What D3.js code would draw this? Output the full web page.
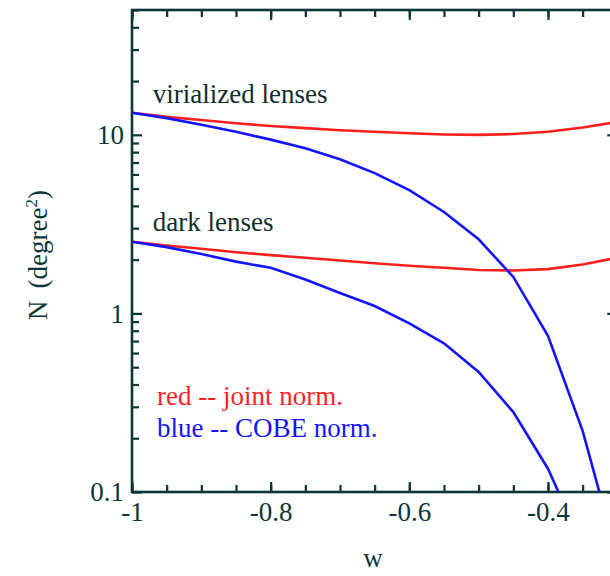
<!DOCTYPE html>
<html>
<head>
<meta charset="utf-8">
<script src="https://cdn.jsdelivr.net/npm/d3@7"></script>
<style>
  body { margin: 0; background: #fff; }
  svg { display: block; }
  text { font-family: "Liberation Serif", "Times New Roman", serif; }
</style>
</head>
<body>
<div id="chart"></div>
<script>
// w values sampled every 0.05
const wValues = [-1, -0.95, -0.9, -0.85, -0.8, -0.75, -0.7, -0.65, -0.6, -0.55, -0.5, -0.45, -0.4, -0.35, -0.3];

// virialized lenses
const virialRed  = [13.3, 12.6, 12.1, 11.6, 11.2, 10.9, 10.6, 10.4, 10.2, 10.05, 10.0, 10.1, 10.4, 11.0, 11.8];
const virialBlue = [13.3, 12.4, 11.4, 10.4, 9.4, 8.4, 7.3, 6.1, 4.9, 3.7, 2.6, 1.6, 0.75, 0.22, 0.043];

// dark lenses
const darkRed  = [2.52, 2.4, 2.3, 2.2, 2.12, 2.05, 1.98, 1.91, 1.85, 1.8, 1.75, 1.74, 1.77, 1.88, 2.05];
const darkBlue = [2.52, 2.35, 2.15, 1.95, 1.8, 1.55, 1.3, 1.1, 0.88, 0.68, 0.47, 0.28, 0.135, 0.05, 0.02];

const xMajor = [-1, -0.8, -0.6, -0.4];
const xLabels = ["-1", "-0.8", "-0.6", "-0.4"];
const yMajor = [0.1, 1, 10];
const yLabels = ["0.1", "1", "10"];

const axisColor = "#0b3636";
const red = "#ff1f1f", blue = "#1414ff";

let margin = {top: 10, left: 132, bottom: 84};
let width = 610, height = 576;
let plotW = 485.3; // extends past the right edge (cropped figure)
let plotH = height - margin.top - margin.bottom;

let svg = d3.select("#chart").append("svg")
    .attr("width", width)
    .attr("height", height);

let g = svg.append("g")
    .attr("transform", `translate(${margin.left},${margin.top})`);

let x = d3.scaleLinear().domain([-1, -0.3]).range([0, plotW]);
let y = d3.scaleLog().domain([0.1, 50]).range([plotH, 0]);

// minor ticks
let xMinor = d3.range(-1, -0.299, 0.05).map(d => +d.toFixed(2));
let yMinor = [];
[0.1, 1, 10].forEach(dec => {
    for (let k = 2; k <= 9; k++) if (dec * k <= 50) yMinor.push(dec * k);
});

function styleAxis(sel) {
    sel.select(".domain").remove();
    sel.selectAll("line").attr("stroke", axisColor).attr("stroke-width", 2.2);
    sel.selectAll("text").attr("fill", axisColor).attr("font-size", "27px")
        .attr("font-family", '"Liberation Serif", "Times New Roman", serif');
}

// bottom
g.append("g").attr("transform", `translate(0,${plotH})`)
    .call(d3.axisBottom(x).tickValues(xMinor).tickSize(-7).tickFormat(""))
    .call(styleAxis);
g.append("g").attr("transform", `translate(0,${plotH})`)
    .call(d3.axisBottom(x).tickValues(xMajor).tickSize(-10).tickPadding(10)
        .tickFormat((d, i) => xLabels[i]))
    .call(styleAxis);
// top
g.append("g")
    .call(d3.axisTop(x).tickValues(xMinor).tickSize(-7).tickFormat(""))
    .call(styleAxis);
g.append("g")
    .call(d3.axisTop(x).tickValues(xMajor).tickSize(-10).tickFormat(""))
    .call(styleAxis);
// left
g.append("g")
    .call(d3.axisLeft(y).tickValues(yMinor).tickSize(-7).tickFormat(""))
    .call(styleAxis);
g.append("g")
    .call(d3.axisLeft(y).tickValues(yMajor).tickSize(-10).tickPadding(8)
        .tickFormat((d, i) => yLabels[i]))
    .call(styleAxis);
// right
g.append("g").attr("transform", `translate(${plotW},0)`)
    .call(d3.axisRight(y).tickValues(yMinor).tickSize(-7).tickFormat(""))
    .call(styleAxis);
g.append("g").attr("transform", `translate(${plotW},0)`)
    .call(d3.axisRight(y).tickValues(yMajor).tickSize(-10).tickFormat(""))
    .call(styleAxis);

// frame
g.append("rect")
    .attr("width", plotW).attr("height", plotH)
    .attr("fill", "none").attr("stroke", axisColor).attr("stroke-width", 2.6);

// curves
g.append("clipPath").attr("id", "clip")
    .append("rect").attr("width", plotW).attr("height", plotH);

let line = d3.line()
    .x((d, i) => x(wValues[i]))
    .y(d => y(d));

[[virialRed, red], [darkRed, red], [virialBlue, blue], [darkBlue, blue]].forEach(([vals, col]) => {
    g.append("path")
        .datum(vals)
        .attr("clip-path", "url(#clip)")
        .attr("fill", "none")
        .attr("stroke", col)
        .attr("stroke-width", 2.6)
        .attr("d", line);
});

// annotations
g.append("text").text("virialized lenses")
    .attr("x", x(-0.97)).attr("y", 93)
    .attr("font-size", "27px").attr("fill", "#102e2e");
g.append("text").text("dark lenses")
    .attr("x", x(-0.97)).attr("y", 221)
    .attr("font-size", "27px").attr("fill", "#102e2e");

g.append("text").text("red -- joint norm.")
    .attr("x", x(-0.964)).attr("y", 395)
    .attr("font-size", "27px").attr("fill", red);
g.append("text").text("blue -- COBE norm.")
    .attr("x", x(-0.964)).attr("y", 427)
    .attr("font-size", "27px").attr("fill", blue);

// axis labels
svg.append("text").text("w")
    .attr("x", 373).attr("y", 567)
    .attr("text-anchor", "middle")
    .attr("font-size", "27px").attr("fill", axisColor);

let yl = svg.append("text")
    .attr("transform", "translate(47,255) rotate(-90)")
    .attr("text-anchor", "middle")
    .attr("font-size", "27px").attr("fill", axisColor);
yl.append("tspan").text("N");
yl.append("tspan").attr("dx", 12).text("(degree");
yl.append("tspan").attr("dy", -10).attr("font-size", "17px").text("2");
yl.append("tspan").attr("dy", 10).text(")");
</script>
</body>
</html>
